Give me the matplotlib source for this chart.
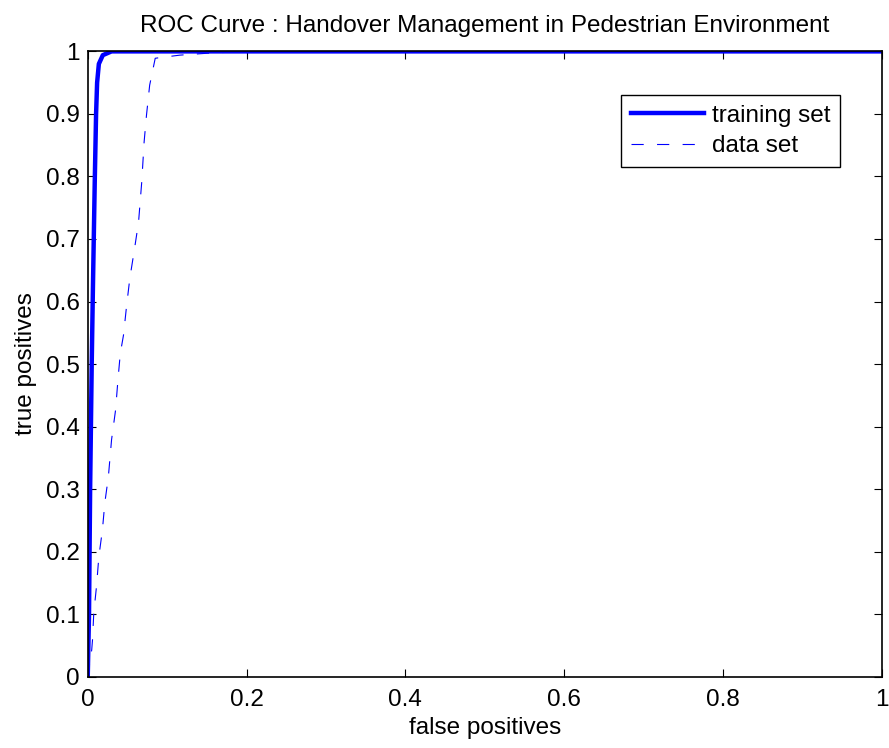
import matplotlib
matplotlib.use("Agg")
from matplotlib import pyplot as plt

plt.rcParams['font.family'] = ['Liberation Sans', 'DejaVu Sans']

# ROC points (false positive rate, true positive rate)
train_fpr = [0.0, 0.0016, 0.003, 0.005, 0.0065, 0.0088, 0.0105, 0.0118, 0.014, 0.019, 0.03, 0.2, 1.0]
train_tpr = [0.0, 0.10, 0.30, 0.50, 0.62, 0.79, 0.90, 0.95, 0.98, 0.994, 1.0, 1.0, 1.0]

data_fpr = [0.0, 0.005, 0.006, 0.0076, 0.011, 0.014, 0.0185, 0.0215, 0.026, 0.030, 0.035,
            0.038, 0.041, 0.045, 0.049, 0.053, 0.059, 0.064, 0.068, 0.071, 0.074, 0.078,
            0.085, 0.091, 0.116, 0.15, 0.2, 1.0]
data_tpr = [0.0, 0.043, 0.059, 0.102, 0.144, 0.192, 0.235, 0.278, 0.32, 0.379, 0.426,
            0.474, 0.517, 0.546, 0.594, 0.637, 0.685, 0.727, 0.791, 0.855, 0.898, 0.946,
            0.989, 0.99, 0.994, 0.997, 1.0, 1.0]

ticks = [0, 0.2, 0.4, 0.6, 0.8, 1]
yticks = [0, 0.1, 0.2, 0.3, 0.4, 0.5, 0.6, 0.7, 0.8, 0.9, 1]

fs = 17.5

fig = plt.figure(figsize=(8.89, 7.48), dpi=100)
ax = fig.add_axes([0.0987, 0.0953, 0.893, 0.836])

ax.plot(train_fpr, train_tpr, color='#0000ff', linewidth=3.2, label='training set')
ax.plot(data_fpr, data_tpr, color='#0000ff', linewidth=0.8, linestyle=(0, (11, 12)), label='data set')

ax.set_xlim(0, 1)
ax.set_ylim(0, 1)
ax.set_xticks(ticks)
ax.set_xticklabels(['0', '0.2', '0.4', '0.6', '0.8', '1'])
ax.set_yticks(yticks)
ax.set_yticklabels(['0', '0.1', '0.2', '0.3', '0.4', '0.5', '0.6', '0.7', '0.8', '0.9', '1'])
ax.tick_params(direction='in', top=True, right=True, length=6, width=0.8, labelsize=fs)
ax.tick_params(axis='x', pad=9)
ax.tick_params(axis='y', pad=6)
for s in ax.spines.values():
    s.set_linewidth(1.2)

ax.set_xlabel('false positives', fontsize=fs, labelpad=4)
ax.set_ylabel('true positives', fontsize=fs, labelpad=6)
ax.set_title('ROC Curve : Handover Management in Pedestrian Environment', fontsize=fs, pad=14)

leg = ax.legend(loc='upper right', bbox_to_anchor=(0.948, 0.93), fontsize=fs, fancybox=False,
                framealpha=1, edgecolor='black', borderpad=0.4, handlelength=3.0,
                labelspacing=0.35, handletextpad=0.35, borderaxespad=0)
leg.get_frame().set_linewidth(1.0)

fig.savefig('out.png', dpi=100)
